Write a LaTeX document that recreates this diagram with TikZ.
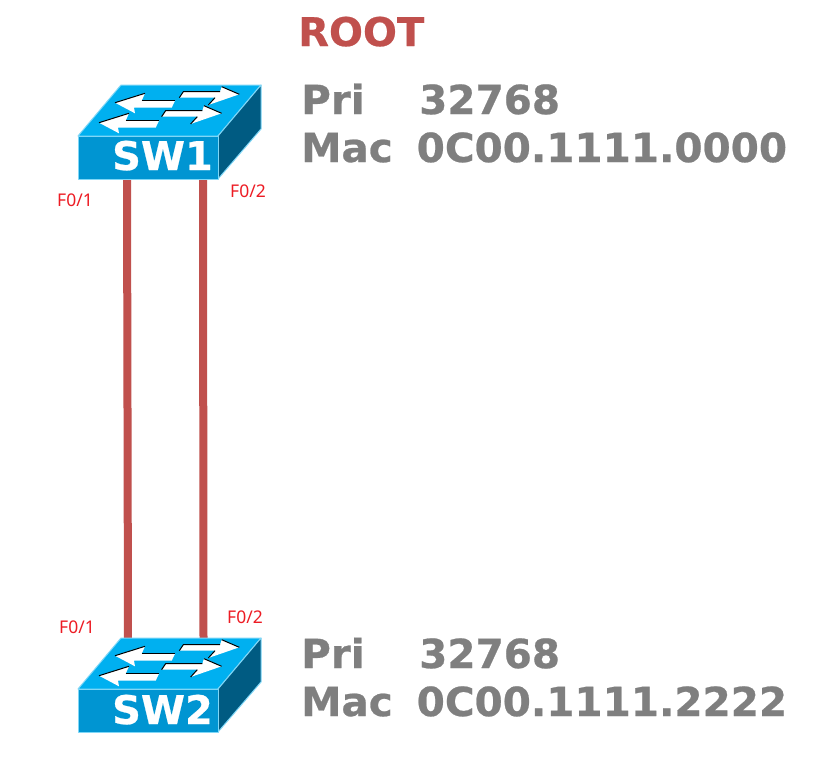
\documentclass[tikz,border=0pt]{standalone}
\usepackage{fontspec}
\setmainfont[BoldFeatures={FakeStretch=1.012,FakeBold=0.6}]{DejaVu Sans}
\newfontfamily\portfont{Noto Sans}
\definecolor{topblue}{HTML}{00B0F0}
\definecolor{frontblue}{HTML}{0095D2}
\definecolor{sideblue}{HTML}{005B82}
\definecolor{edgeblue}{HTML}{7FD7F7}
\definecolor{linkred}{HTML}{C0504D}
\definecolor{infogray}{HTML}{7F7F7F}
\definecolor{portred}{HTML}{ED1C24}
\tikzset{
  x=1pt,y=-1pt,
  front/.style={fill=frontblue,draw=edgeblue,line width=1pt,line join=round},
  topface/.style={fill=topblue,draw=edgeblue,line width=1pt,line join=round},
  sideface/.style={fill=sideblue,draw=edgeblue,line width=1pt,line join=round},
  swname/.style={text=white,font=\bfseries\fontsize{39.5}{40}\selectfont,inner sep=0pt,anchor=base},
  info/.style={text=infogray,font=\bfseries\fontsize{40}{40}\selectfont,inner sep=0pt,anchor=base west},
  rootlabel/.style={text=linkred,font=\bfseries\fontsize{39.5}{39.5}\selectfont,inner sep=0pt,anchor=base west},
  port/.style={text=portred,font=\portfont\fontsize{17.5}{17.5}\selectfont,inner sep=0pt,anchor=base west},
  link/.style={draw=linkred,line width=8pt},
  arrowfill/.style={fill=white,draw=none},
  arrowedge/.style={draw=black,line width=1pt},
  switchbody/.pic={
    \path[topface] (0,0) -- (43,-51) -- (183,-51) -- (140,0) -- cycle;
    \path[sideface] (140,0) -- (183,-51) -- (183,-7) -- (140,43) -- cycle;
    \path[front] (0,0) rectangle (140,43);
    % left arrows
    \foreach \dx/\dy in {0/0,-16/20}{
      \begin{scope}[shift={(\dx,\dy)}]
        \fill[arrowfill] (37,-33.3) -- (67,-42.7) -- (63.7,-35.3) -- (97,-35.3) -- (93.7,-28.3) -- (56,-28.3) -- (57,-22.7) -- cycle;
        \draw[arrowedge] (37,-33.3) -- (67,-42.7);
        \draw[arrowedge] (63.7,-35.3) -- (97,-35.3);
      \end{scope}
    }
    % right arrows
    \foreach \dx/\dy in {0/0,-17.7/19}{
      \begin{scope}[shift={(\dx,\dy)}]
        \fill[arrowfill] (161.3,-41.7) -- (143.7,-49.3) -- (142,-44.3) -- (105.3,-44.3) -- (101.3,-38.3) -- (137,-38.3) -- (130.3,-31) -- cycle;
        \draw[arrowedge] (161.3,-41.7) -- (143.7,-49.3);
        \draw[arrowedge] (142,-44.3) -- (105.3,-44.3) -- (101.3,-38.3);
        \draw[arrowedge] (137,-38.3) -- (130.3,-31);
      \end{scope}
    }
  }
}
\begin{document}
\begin{tikzpicture}
\useasboundingbox (0,0) rectangle (837,772);
\fill[white] (0,0) rectangle (837,772);

\coordinate (sw1a) at (127,179);
\coordinate (sw1b) at (203,179);
\coordinate (sw2a) at (128,639);
\coordinate (sw2b) at (203.5,639);
\draw[link] (sw1a) -- (sw2a);
\draw[link] (sw1b) -- (sw2b);

\pic at (78,136) {switchbody};
\pic at (78,689) {switchbody};
\node[swname] (sw1) at (162.5,170) {SW1};
\node[swname] (sw2) at (162.5,724) {SW2};

\node[rootlabel] (root) at (298,46) {ROOT};
\node[info] (pri1) at (301,114) {Pri};
\node[info] (val1) at (419,114) {32768};
\node[info] (mac1) at (301,162) {Mac};
\node[info] (addr1) at (416.5,162) {0C00.1111.0000};
\node[info] (pri2) at (301,668) {Pri};
\node[info] (val2) at (419,668) {32768};
\node[info] (mac2) at (301,716) {Mac};
\node[info] (addr2) at (416.5,716) {0C00.1111.2222};

\node[port] (p1) at (57,206) {F0/1};
\node[port] (p2) at (230,197) {F0/2};
\node[port] (p3) at (59,633) {F0/1};
\node[port] (p4) at (227,623) {F0/2};
\end{tikzpicture}
\end{document}
